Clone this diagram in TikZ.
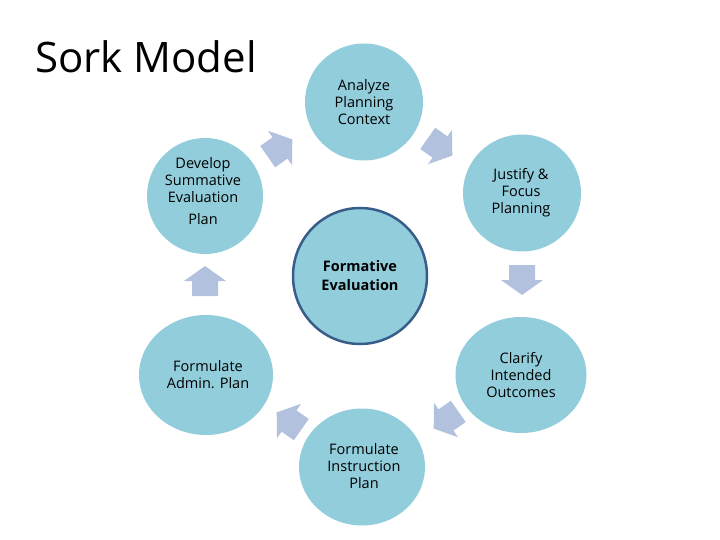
\documentclass[tikz,border=0pt]{standalone}
\usepackage{fontspec}
\setmainfont{Open Sans}
\usetikzlibrary{shapes.geometric}
\definecolor{circfill}{RGB}{146,205,220}
\definecolor{arrfill}{RGB}{178,194,222}
\definecolor{ringcol}{RGB}{56,93,138}
\tikzset{
  stage/.style={ellipse, fill=circfill, inner sep=0pt},
  stagetext/.style={align=center, font=\fontsize{14.5}{17}\selectfont, text=black, inner sep=0pt},
  blockarr/.style={fill=arrfill},
}
\newcommand\blockarrow[2]{%
  \fill[blockarr, shift={#1}, rotate=#2] (-15,-13) -- (0,-13) -- (0,-21) -- (15,0) -- (0,21) -- (0,13) -- (-15,13) -- cycle;}
\begin{document}
\begin{tikzpicture}[x=1pt,y=-1pt]
\useasboundingbox (0,0) rectangle (720,540);
\node[anchor=base west, font=\fontsize{42}{48}\selectfont, inner sep=0pt] (title) at (35,73) {Sork Model};
% stage circles
\node[stage, minimum width=118, minimum height=117] (analyze) at (364,102) {};
\node[stage, minimum width=118, minimum height=117] (justify) at (522,193) {};
\node[stage, minimum width=131, minimum height=116] (clarify) at (521,375) {};
\node[stage, minimum width=126, minimum height=117] (instr) at (362,467) {};
\node[stage, minimum width=134, minimum height=120] (admin) at (206,375) {};
\node[stage, minimum width=116, minimum height=116] (develop) at (205,196) {};
\node[stage, draw=ringcol, line width=2.5pt, minimum width=134, minimum height=136] (formative) at (360,276) {};
% texts
\node[stagetext] (tanalyze) at (364,102) {Analyze\\Planning\\Context};
\node[stagetext] (tjustify) at (521,193) {Justify \&\\Focus\\Planning};
\node[stagetext] (tclarify) at (521,375) {Clarify\\Intended\\Outcomes};
\node[stagetext] (tinstr) at (364,466) {Formulate\\Instruction\\Plan};
\node[stagetext] (tadmin) at (208,375) {Formulate\\Admin. Plan};
\node[stagetext] (tdevelop) at (203,191) {Develop\\Summative\\Evaluation\\[5pt]Plan};
\node[stagetext, font=\fontsize{14.5}{19}\selectfont\bfseries] (tform) at (360,276) {Formative\\Evaluation};
% block arrows
\blockarrow{(280,148)}{35}
\blockarrow{(440,147)}{-35}
\blockarrow{(522,280)}{-90}
\blockarrow{(446,420)}{-145}
\blockarrow{(289,421)}{145}
\blockarrow{(205,281)}{90}
\end{tikzpicture}
\end{document}
